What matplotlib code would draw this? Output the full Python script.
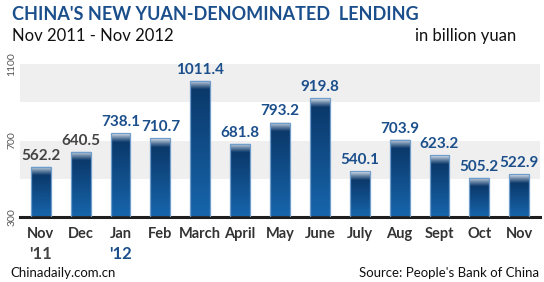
import numpy as np
import matplotlib.pyplot as plt
from matplotlib.patches import Rectangle
from matplotlib.colors import to_rgb

# monthly new yuan loans, billion yuan
months = ["Nov", "Dec", "Jan", "Feb", "March", "April", "May",
          "June", "July", "Aug", "Sept", "Oct", "Nov"]
lending = [562.2, 640.5, 738.1, 710.7, 1011.4, 681.8, 793.2,
           919.8, 540.1, 703.9, 623.2, 505.2, 522.9]
years = {0: "'11", 2: "'12"}
y_ticks = [300, 700, 1100]

BLUE = "#1b4f8c"
GREY = "#444444"
ymin, ymax = 300, 1100

fig = plt.figure(figsize=(5.44, 2.82), dpi=100)
fig.patch.set_facecolor("white")
W, H = 544, 282
ax = fig.add_axes([20 / W, 65 / H, 520 / W, 153 / H])
for s in ["top", "right", "left"]:
    ax.spines[s].set_visible(False)
ax.spines["bottom"].set_color("#1e1e1e")
ax.spines["bottom"].set_linewidth(2.2)
ax.set_xticks([])
ax.set_yticks([])

# alternating background bands
ax.axhspan(900, 1100, color="#efefef", zorder=0, lw=0)
ax.axhspan(500, 700, color="#efefef", zorder=0, lw=0)

px_per_unit = 153 / (ymax - ymin)
cap_px = 9.0
c_top = np.array(to_rgb("#eef3f8"))
c_dark = np.array(to_rgb("#0b396b"))
c_low = np.array(to_rgb("#1766ad"))

bw = 0.5
for i, v in enumerate(lending):
    h_px = (v - ymin) * px_per_unit
    n = int(h_px * 3)
    d = np.linspace(0, h_px, n)  # pixel distance from bar top
    img = np.zeros((n, 1, 3))
    for k, dk in enumerate(d):
        if dk < cap_px:
            t = (dk / cap_px) ** 0.8
            img[k, 0] = c_top * (1 - t) + c_dark * t
        else:
            t = (dk - cap_px) / max(h_px - cap_px, 1)
            img[k, 0] = c_dark * (1 - t) + c_low * t
    ax.imshow(img, extent=[i - bw / 2, i + bw / 2, ymin, v], aspect="auto",
              interpolation="bilinear", zorder=2)
    ax.add_patch(Rectangle((i - bw / 2, ymin), bw, v - ymin, fill=False,
                           edgecolor="#6e9ccb", lw=0.9, zorder=3))
    col = GREY if i < 2 else BLUE
    ax.text(i, v + 22, f"{v:.1f}", ha="center", va="bottom", fontsize=11,
            fontweight="bold", color=col, family="Lato", clip_on=False)
    ax.text(i, ymin - 50, months[i], ha="center", va="top", fontsize=10.5,
            fontweight="bold", color="#333333", family="Lato")
    if i in years:
        ax.text(i, ymin - 150, years[i], ha="center", va="top", fontsize=12,
                fontweight="bold", color=GREY if i == 0 else BLUE,
                family="Lato")

ax.set_xlim(-0.52, len(months) - 0.48)
ax.set_ylim(ymin, ymax)

for t in y_ticks:
    fig.text(12 / W, (65 + (t - ymin) * px_per_unit) / H, str(t),
             rotation=90, ha="center", va="center", fontsize=7.5,
             color="#555555", family="Lato")

fig.text(12 / W, 1 - 15 / H, "CHINA'S NEW YUAN-DENOMINATED  LENDING",
         ha="left", va="center", fontsize=13, fontweight="bold",
         color=BLUE, family="Lato")
fig.text(12 / W, 1 - 36 / H, "Nov 2011 - Nov 2012", ha="left", va="center",
         fontsize=12, color="#111111", family="Lato")
fig.text(516 / W, 1 - 36 / H, "in billion yuan", ha="right", va="center",
         fontsize=12, color="#111111", family="Lato")
fig.text(10 / W, 1 - 273 / H, "Chinadaily.com.cn", ha="left", va="center",
         fontsize=9.5, color="#111111", family="Lato")
fig.text(539 / W, 1 - 273 / H, "Source: People's Bank of China", ha="right",
         va="center", fontsize=9.5, color="#111111", family="Lato")

fig.savefig("out.png", dpi=100)
